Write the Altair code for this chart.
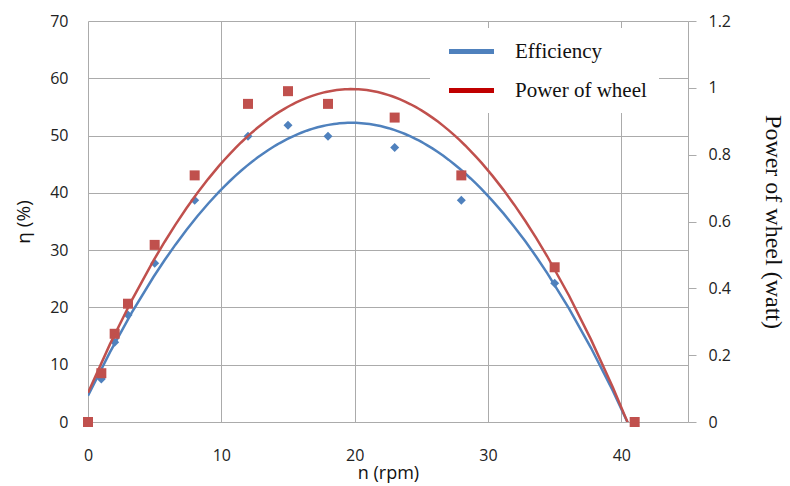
import altair as alt
import pandas as pd

# ---- data ----
rpm = [0, 1, 2, 3, 5, 8, 12, 15, 18, 23, 28, 35, 41]
efficiency = [0, 7.5, 13.9, 18.7, 27.7, 38.7, 49.9, 51.8, 49.9, 47.9, 38.7, 24.2, 0]
power = [0, 0.146, 0.264, 0.354, 0.53, 0.738, 0.952, 0.99, 0.952, 0.911, 0.738, 0.463, 0]
series_names = ["Efficiency", "Power of wheel"]
legend_colors = ["#4F81BD", "#C00000"]
x_ticks = [0, 10, 20, 30, 40]
eta_ticks = [0, 10, 20, 30, 40, 50, 60, 70]
power_ticks = [0, 0.2, 0.4, 0.6, 0.8, 1.0, 1.2]

df = pd.DataFrame({"n": rpm, "eta": efficiency, "p": power})
legend_df = pd.DataFrame({"series": series_names})

GRID = "#ababab"
SANS = "Open Sans"
SERIF = "Liberation Serif"

x_enc = alt.X(
    "n:Q",
    scale=alt.Scale(domain=[0, 45], nice=False, zero=False),
    axis=alt.Axis(values=x_ticks, title="n (rpm)", grid=True, gridColor=GRID,
                  ticks=False, domain=False, labelPadding=25, titlePadding=1,
                  labelFlush=False,
                  labelFont=SANS, labelFontSize=16, titleFont=SANS,
                  titleFontSize=18, titleFontWeight="normal"),
)

eta_scale = alt.Scale(domain=[0, 70], nice=False)
eta_axis = alt.Axis(values=eta_ticks, title="η (%)", grid=True, gridColor=GRID,
                    ticks=False, domain=False, labelPadding=20, titlePadding=16,
                    labelFlush=False,
                    labelFont=SANS, labelFontSize=16, titleFont=SANS,
                    titleFontSize=19, titleFontWeight="normal", orient="left")
p_scale = alt.Scale(domain=[0, 1.2], nice=False)
p_axis = alt.Axis(values=power_ticks, title="Power of wheel (watt)", grid=False,
                  format="~g", labelFlush=False,
                  ticks=True, tickSize=8, tickColor=GRID, domain=True,
                  domainColor=GRID, labelPadding=12, titlePadding=30,
                  labelFont=SANS, labelFontSize=16, titleFont=SERIF,
                  titleFontSize=24, titleFontWeight="normal", orient="right")

base = alt.Chart(df)

blue_pts = base.mark_point(shape="diamond", filled=True, size=81,
                           color="#4F81BD", opacity=1).encode(
    x=x_enc, y=alt.Y("eta:Q", scale=eta_scale, axis=eta_axis))
blue_fit = base.transform_regression("n", "eta", method="poly", order=2,
                                     extent=[0, 41]).mark_line(
    color="#4F81BD", strokeWidth=2.5, clip=True).encode(
    x=x_enc, y=alt.Y("eta:Q", scale=eta_scale, axis=eta_axis))

red_pts = base.mark_square(size=100, color="#C0504D", opacity=1).encode(
    x=x_enc, y=alt.Y("p:Q", scale=p_scale, axis=p_axis))
red_fit = base.transform_regression("n", "p", method="poly", order=2,
                                    extent=[0, 41]).mark_line(
    color="#C0504D", strokeWidth=2.5, clip=True).encode(
    x=x_enc, y=alt.Y("p:Q", scale=p_scale, axis=p_axis))

legend_layer = alt.Chart(legend_df).mark_line(opacity=0).encode(
    color=alt.Color(
        "series:N",
        scale=alt.Scale(domain=series_names, range=legend_colors),
        legend=alt.Legend(
            title=None, orient="none", legendX=342, legendY=7,
            fillColor="white", padding=12, symbolOffset=18,
            symbolType="M-2.5,0H2.5", symbolSize=324, symbolStrokeWidth=5,
            symbolOpacity=1, labelFont=SERIF, labelFontSize=21,
            labelColor="#111", labelOffset=32, rowPadding=17,
        ),
    )
)

left = alt.layer(blue_pts, blue_fit)
right = alt.layer(red_pts, red_fit)

chart = alt.layer(left, right, legend_layer).resolve_scale(
    y="independent", color="independent"
).properties(
    width=600, height=401,
    autosize=alt.AutoSizeParams(type="none"),
    padding={"left": 88, "top": 21, "right": 102, "bottom": 64},
).configure_view(stroke=None).configure_axis(
    labelColor="#222", titleColor="#111"
)

chart.save("out.html", embed_options={"renderer": "svg", "actions": False})
